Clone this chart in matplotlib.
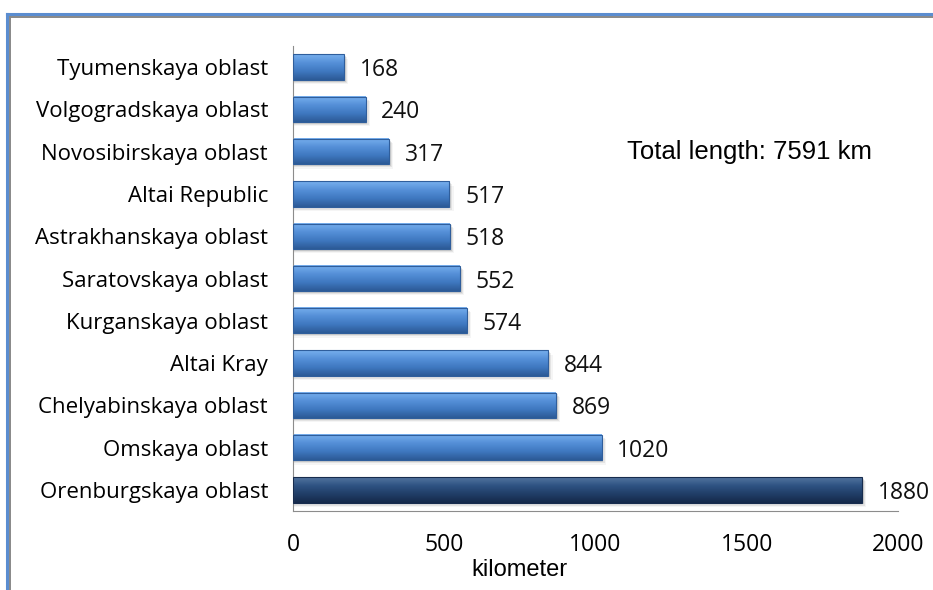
import numpy as np
import matplotlib
matplotlib.use("Agg")
import matplotlib.pyplot as plt
from matplotlib.colors import LinearSegmentedColormap
from matplotlib.lines import Line2D

# data (bottom to top)
regions = ["Orenburgskaya oblast", "Omskaya oblast", "Chelyabinskaya oblast", "Altai Kray",
           "Kurganskaya oblast", "Saratovskaya oblast", "Astrakhanskaya oblast", "Altai Republic",
           "Novosibirskaya oblast", "Volgogradskaya oblast", "Tyumenskaya oblast"]
lengths = [1880, 1020, 869, 844, 574, 552, 518, 517, 317, 240, 168]
total_km = 7591

blue = LinearSegmentedColormap.from_list("blue", ["#2c5a96", "#3f78c0", "#5590d8", "#78b0ee"])
navy = LinearSegmentedColormap.from_list("navy", ["#15294a", "#203d66", "#2e5282", "#52749f"])

fig = plt.figure(figsize=(9.33, 5.9), dpi=100)
ax = fig.add_axes([293 / 933, 1 - 511 / 590, (898 - 293) / 933, (511 - 46) / 590])

h = 0.6
grad = np.linspace(0, 1, 64).reshape(-1, 1)
for i, (name, v) in enumerate(zip(regions, lengths)):
    cmap = navy if i == 0 else blue
    # soft shadow
    for k, a in enumerate([0.10, 0.07, 0.04]):
        ax.barh(i - 0.04 - 0.03 * k, v + 6 + 4 * k, height=h, left=0, color="#000000",
                alpha=a, zorder=1, linewidth=0)
    ax.imshow(grad, cmap=cmap, aspect="auto", extent=(0, v, i - h / 2, i + h / 2),
              origin="lower", zorder=2, interpolation="bilinear")
    ax.barh(i, v, height=h, color="none", edgecolor=cmap(0.05), linewidth=0.8, zorder=3)
    ax.text(v + 52, i, str(v), va="center_baseline", ha="left", fontsize=16.5,
            family="Open Sans", color="#111111")

ax.set_xlim(0, 2000)
ax.set_ylim(-0.5, 10.5)
ax.set_yticks(range(len(regions)))
ax.set_yticklabels(regions, fontsize=16, family="Open Sans")
ax.set_xticks([0, 500, 1000, 1500, 2000])
ax.set_xticklabels(["0", "500", "1000", "1500", "2000"], fontsize=16.5, family="Open Sans")
ax.tick_params(axis="y", length=0, pad=18)
ax.tick_params(axis="x", length=0, pad=16)
for s in ["top", "right"]:
    ax.spines[s].set_visible(False)
ax.spines["left"].set_color("#8c8c8c")
ax.spines["bottom"].set_color("#8c8c8c")
ax.set_xlabel("kilometer", fontsize=17, family="Liberation Sans", x=0.375, labelpad=1)

fig.text(627 / 933, 1 - 152 / 590, f"Total length: {total_km} km", fontsize=18.5,
         family="Liberation Sans", va="center", ha="left")

# outer frame
fig.add_artist(Line2D([7 / 933, 7 / 933], [0, 1 - 14 / 590], transform=fig.transFigure,
                      color="#5b8dd0", linewidth=2.2))
fig.add_artist(Line2D([7 / 933, 1], [1 - 14 / 590, 1 - 14 / 590], transform=fig.transFigure,
                      color="#5b8dd0", linewidth=2.2))
fig.add_artist(Line2D([10 / 933, 10 / 933], [0, 1 - 17 / 590], transform=fig.transFigure,
                      color="#888888", linewidth=1.4))
fig.add_artist(Line2D([10 / 933, 1], [1 - 17 / 590, 1 - 17 / 590], transform=fig.transFigure,
                      color="#888888", linewidth=1.4))

fig.savefig("out.png", dpi=100)
